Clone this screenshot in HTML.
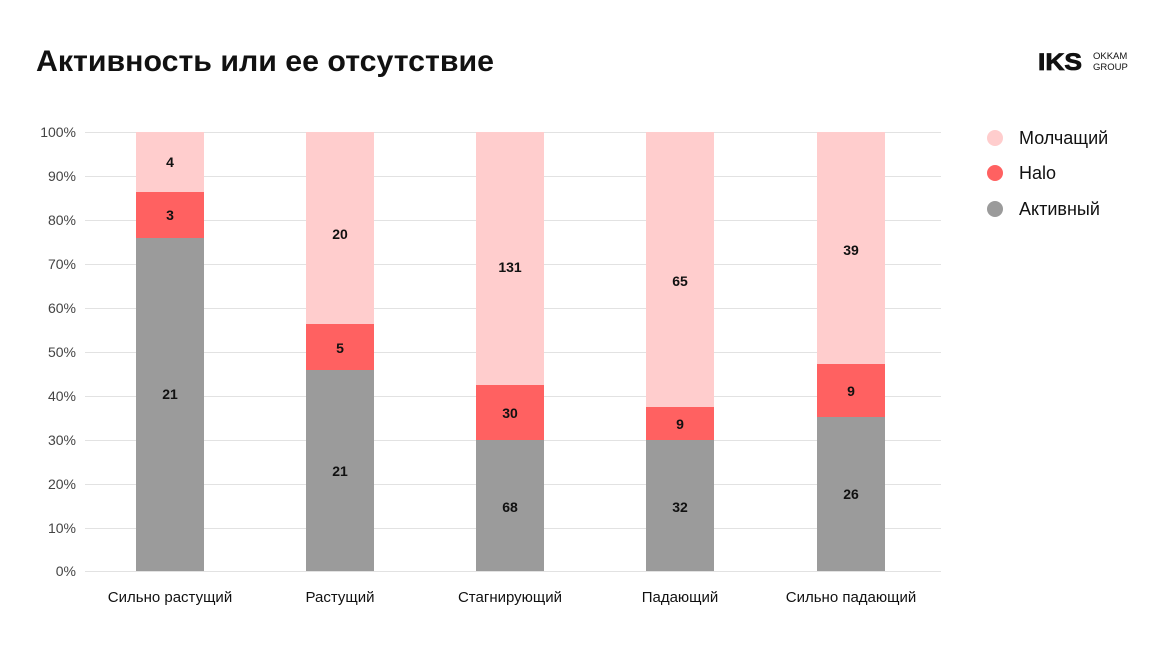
<!DOCTYPE html>
<html><head><meta charset="utf-8"><style>
body{margin:0;background:#fff;width:1176px;height:662px;overflow:hidden;font-family:"Liberation Sans",sans-serif;}
</style></head><body>
<svg width="1176" height="662" xmlns="http://www.w3.org/2000/svg" font-family="Liberation Sans, sans-serif">
<text x="36" y="71" font-size="30" font-weight="bold" fill="#111" textLength="458" lengthAdjust="spacingAndGlyphs">Активность или ее отсутствие</text>
<text x="1038" y="70" font-size="24" font-weight="bold" fill="#111" stroke="#111" stroke-width="0.8" textLength="44" lengthAdjust="spacingAndGlyphs">IKS</text>
<text x="1093" y="59" font-size="9.5" fill="#111">OKKAM</text>
<text x="1093" y="70" font-size="9.5" fill="#111">GROUP</text>
<g stroke="#e2e2e2" stroke-width="1">
<line x1="85" x2="941" y1="132.5" y2="132.5"/><line x1="85" x2="941" y1="176.5" y2="176.5"/>
<line x1="85" x2="941" y1="220.5" y2="220.5"/><line x1="85" x2="941" y1="264.5" y2="264.5"/>
<line x1="85" x2="941" y1="308.5" y2="308.5"/><line x1="85" x2="941" y1="352.5" y2="352.5"/>
<line x1="85" x2="941" y1="396.5" y2="396.5"/><line x1="85" x2="941" y1="440.5" y2="440.5"/>
<line x1="85" x2="941" y1="484.5" y2="484.5"/><line x1="85" x2="941" y1="528.5" y2="528.5"/>
<line x1="85" x2="941" y1="571.5" y2="571.5"/>
</g>
<g font-size="14" fill="#444" text-anchor="end">
<text x="76" y="137">100%</text><text x="76" y="181">90%</text><text x="76" y="225">80%</text>
<text x="76" y="269">70%</text><text x="76" y="313">60%</text><text x="76" y="357">50%</text>
<text x="76" y="401">40%</text><text x="76" y="445">30%</text><text x="76" y="489">20%</text>
<text x="76" y="533">10%</text><text x="76" y="576">0%</text>
</g>
<g>
<rect x="136" y="132" width="68" height="60" fill="#ffcdcd"/><rect x="136" y="192" width="68" height="46" fill="#ff6161"/><rect x="136" y="238" width="68" height="333" fill="#9b9b9b"/>
<rect x="306" y="132" width="68" height="192" fill="#ffcdcd"/><rect x="306" y="324" width="68" height="46" fill="#ff6161"/><rect x="306" y="370" width="68" height="201" fill="#9b9b9b"/>
<rect x="476" y="132" width="68" height="253" fill="#ffcdcd"/><rect x="476" y="385" width="68" height="55" fill="#ff6161"/><rect x="476" y="440" width="68" height="131" fill="#9b9b9b"/>
<rect x="646" y="132" width="68" height="275" fill="#ffcdcd"/><rect x="646" y="407" width="68" height="33" fill="#ff6161"/><rect x="646" y="440" width="68" height="131" fill="#9b9b9b"/>
<rect x="817" y="132" width="68" height="232" fill="#ffcdcd"/><rect x="817" y="364" width="68" height="53" fill="#ff6161"/><rect x="817" y="417" width="68" height="154" fill="#9b9b9b"/>
</g>
<g font-size="14" font-weight="bold" fill="#111" text-anchor="middle">
<text x="170" y="167">4</text><text x="170" y="220">3</text><text x="170" y="399">21</text>
<text x="340" y="239">20</text><text x="340" y="353">5</text><text x="340" y="476">21</text>
<text x="510" y="272">131</text><text x="510" y="418">30</text><text x="510" y="512">68</text>
<text x="680" y="286">65</text><text x="680" y="429">9</text><text x="680" y="512">32</text>
<text x="851" y="255">39</text><text x="851" y="396">9</text><text x="851" y="499">26</text>
</g>
<g font-size="15" fill="#111" text-anchor="middle">
<text x="170" y="602">Сильно растущий</text><text x="340" y="602">Растущий</text>
<text x="510" y="602">Стагнирующий</text><text x="680" y="602">Падающий</text>
<text x="851" y="602">Сильно падающий</text>
</g>
<circle cx="995" cy="138" r="8" fill="#ffcdcd"/><text x="1019" y="144" font-size="18" fill="#111">Молчащий</text>
<circle cx="995" cy="173" r="8" fill="#ff6161"/><text x="1019" y="179" font-size="18" fill="#111">Halo</text>
<circle cx="995" cy="209" r="8" fill="#9b9b9b"/><text x="1019" y="215" font-size="18" fill="#111">Активный</text>
</svg>
</body></html>
